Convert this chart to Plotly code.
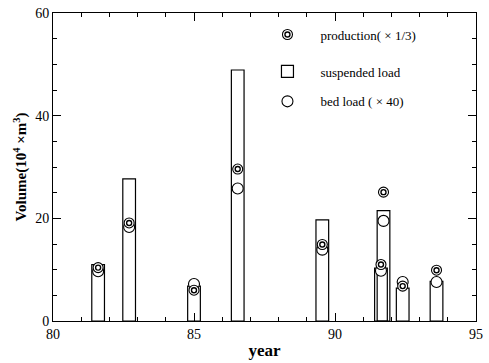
import plotly.graph_objects as go

years = [81.6, 82.7, 85.0, 86.55, 89.55, 91.63, 91.72, 92.4, 93.6]
suspended = [11.0, 27.7, 6.8, 48.9, 19.7, 10.3, 21.5, 6.4, 7.7]
production = [10.4, 19.1, 6.0, 29.6, 14.9, 11.0, 25.1, 6.8, 9.9]
bed = [9.7, 18.3, 7.2, 25.8, 13.9, 9.8, 19.5, 7.6, 7.6]

FONT = '"Liberation Serif", "Times New Roman", serif'
NB = "\u00a0" * 4

fig = go.Figure()
fig.add_trace(go.Bar(
    x=years, y=suspended, width=0.45, name=NB + "suspended load",
    marker=dict(color="rgba(255,255,255,0)", line=dict(color="black", width=1.2)),
    legend="legend2",
))
fig.add_trace(go.Scatter(
    x=years, y=bed, mode="markers", name=NB + "bed load ( × 40)",
    marker=dict(symbol="circle", size=11, color="white", line=dict(color="black", width=1.1)),
    legend="legend3",
))
fig.add_trace(go.Scatter(
    x=years, y=production, mode="markers", name=NB + "production( × 1/3)",
    marker=dict(symbol="circle", size=10, color="white", line=dict(color="black", width=1.1)),
    legend="legend",
))
fig.add_trace(go.Scatter(
    x=years, y=production, mode="markers", name=" ",
    marker=dict(symbol="circle", size=5, color="white", line=dict(color="black", width=1.4)),
    legend="legend4",
))

axis_common = dict(
    showline=True, linecolor="black", linewidth=1, mirror="ticks",
    ticks="inside", ticklen=8, tickcolor="black", tickwidth=1,
    showgrid=False, zeroline=False, ticklabeloverflow="allow",
    tickfont=dict(family=FONT, size=14, color="black"),
)

fig.update_xaxes(
    range=[80, 95], dtick=5, tick0=80,
    minor=dict(dtick=1, ticks="inside", ticklen=4, tickcolor="black"),
    title=dict(text="<b>year</b>", font=dict(family=FONT, size=17, color="black"), standoff=3),
    **axis_common,
)
fig.update_yaxes(
    range=[0, 60], dtick=20, tick0=0,
    minor=dict(dtick=5, ticks="inside", ticklen=4, tickcolor="black"),
    title=dict(text="<b>Volume(10<sup>4</sup> ×m<sup>3</sup>)</b>", font=dict(family=FONT, size=15, color="black"), standoff=4),
    **axis_common,
)

leg_common = dict(font=dict(family=FONT, size=13, color="black"), bgcolor="rgba(0,0,0,0)",
                  xanchor="left", yanchor="middle", x=0.507)
fig.update_layout(
    width=489, height=363,
    margin=dict(l=53, r=6, t=11, b=42),
    plot_bgcolor="white", paper_bgcolor="white",
    barmode="overlay",
    showlegend=True,
    legend=dict(y=0.93, **leg_common),
    legend4=dict(y=0.93, **leg_common),
    legend2=dict(y=0.81, **leg_common),
    legend3=dict(y=0.713, **leg_common),
)

fig.write_html("out.html", config={"displayModeBar": False},
               post_script="document.body.style.margin='0';")
